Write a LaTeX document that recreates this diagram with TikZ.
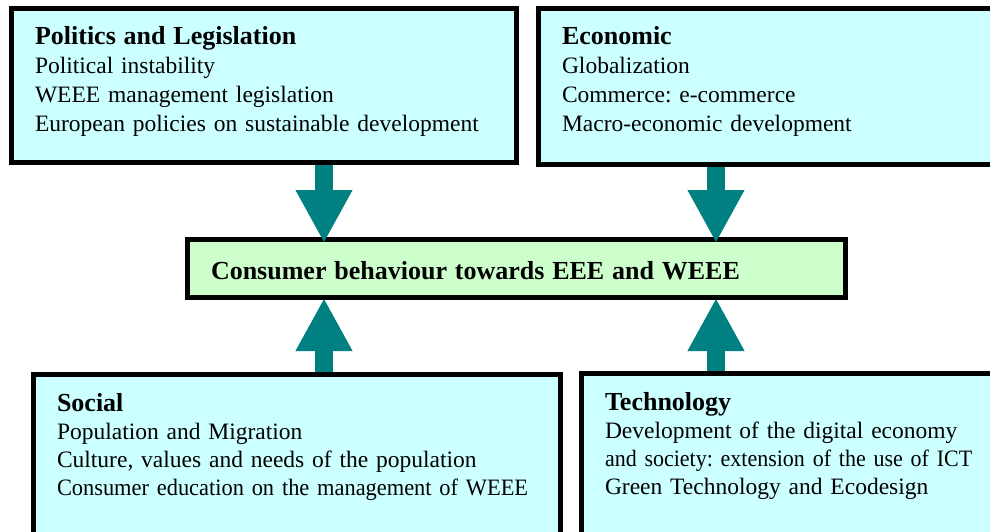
\documentclass[tikz,border=0pt]{standalone}
\usepackage{fontspec}
\setmainfont{Liberation Serif}
\usetikzlibrary{arrows.meta}
\definecolor{factorcyan}{HTML}{CCFFFF}
\definecolor{coregreen}{HTML}{CCFFCC}
\definecolor{flowteal}{HTML}{008080}
\frenchspacing
\newcommand\heading[1]{{\fontsize{26}{28.7}\selectfont\bfseries #1}}
\newcommand\squeeze[2]{{\addfontfeatures{FakeStretch=#1}#2}}
\tikzset{
    factor/.style={rectangle, draw, line width=5pt, fill=factorcyan, anchor=north west, align=left, inner xsep=23.5pt, inner ysep=12pt, text height=24.5pt, font=\fontsize{23.5}{28.7}\selectfont},
    lowfactor/.style={factor, font=\fontsize{23.5}{28.3}\selectfont},
    core/.style={factor, fill=coregreen, text height=27.5pt, text depth=6.5pt},
    flow/.style={flowteal, line width=18pt, -{Triangle[width=53pt,length=53pt]}}
}
\begin{document}
\begin{tikzpicture}[x=1pt,y=-1pt]
    \useasboundingbox (0,0) rectangle (990,532);
    \clip (0,0) rectangle (990,532);
    \node(politics) [factor, text width=458pt, text depth=105.5pt] at (9,6) {\heading{Politics and Legislation}\\Political instability\\WEEE management legislation\\European policies on sustainable development};
    \node(economic) [factor, text width=440pt, text depth=107pt] at (536,6) {\heading{Economic}\\Globalization\\Commerce: e-commerce\\Macro-economic development};
    \node(behaviour) [core, text width=611pt] at (185,237) {\heading{Consumer behaviour towards EEE and WEEE}};
    \node(social) [lowfactor, text width=480pt, text depth=150pt] at (31,372) {\heading{Social}\\Population and Migration\\Culture, values and needs of the population\\\squeeze{0.953}{Consumer education on the management of WEEE}};
    \node(technology) [lowfactor, text width=440pt, text depth=150pt] at (579,371) {\heading{Technology}\\Development of the digital economy\\\squeeze{0.935}{and society: extension of the use of ICT}\\Green Technology and Ecodesign};
    \coordinate (leftx) at (324,0);
    \coordinate (rightx) at (716,0);
    \draw[flow, shorten >=-6pt] (politics.south -| leftx) -- (behaviour.north -| leftx);
    \draw[flow, shorten >=-6pt] (economic.south -| rightx) -- (behaviour.north -| rightx);
    \draw[flow, shorten >=-2pt] (social.north -| leftx) -- (behaviour.south -| leftx);
    \draw[flow, shorten >=-2pt] (technology.north -| rightx) -- (behaviour.south -| rightx);
\end{tikzpicture}
\end{document}
